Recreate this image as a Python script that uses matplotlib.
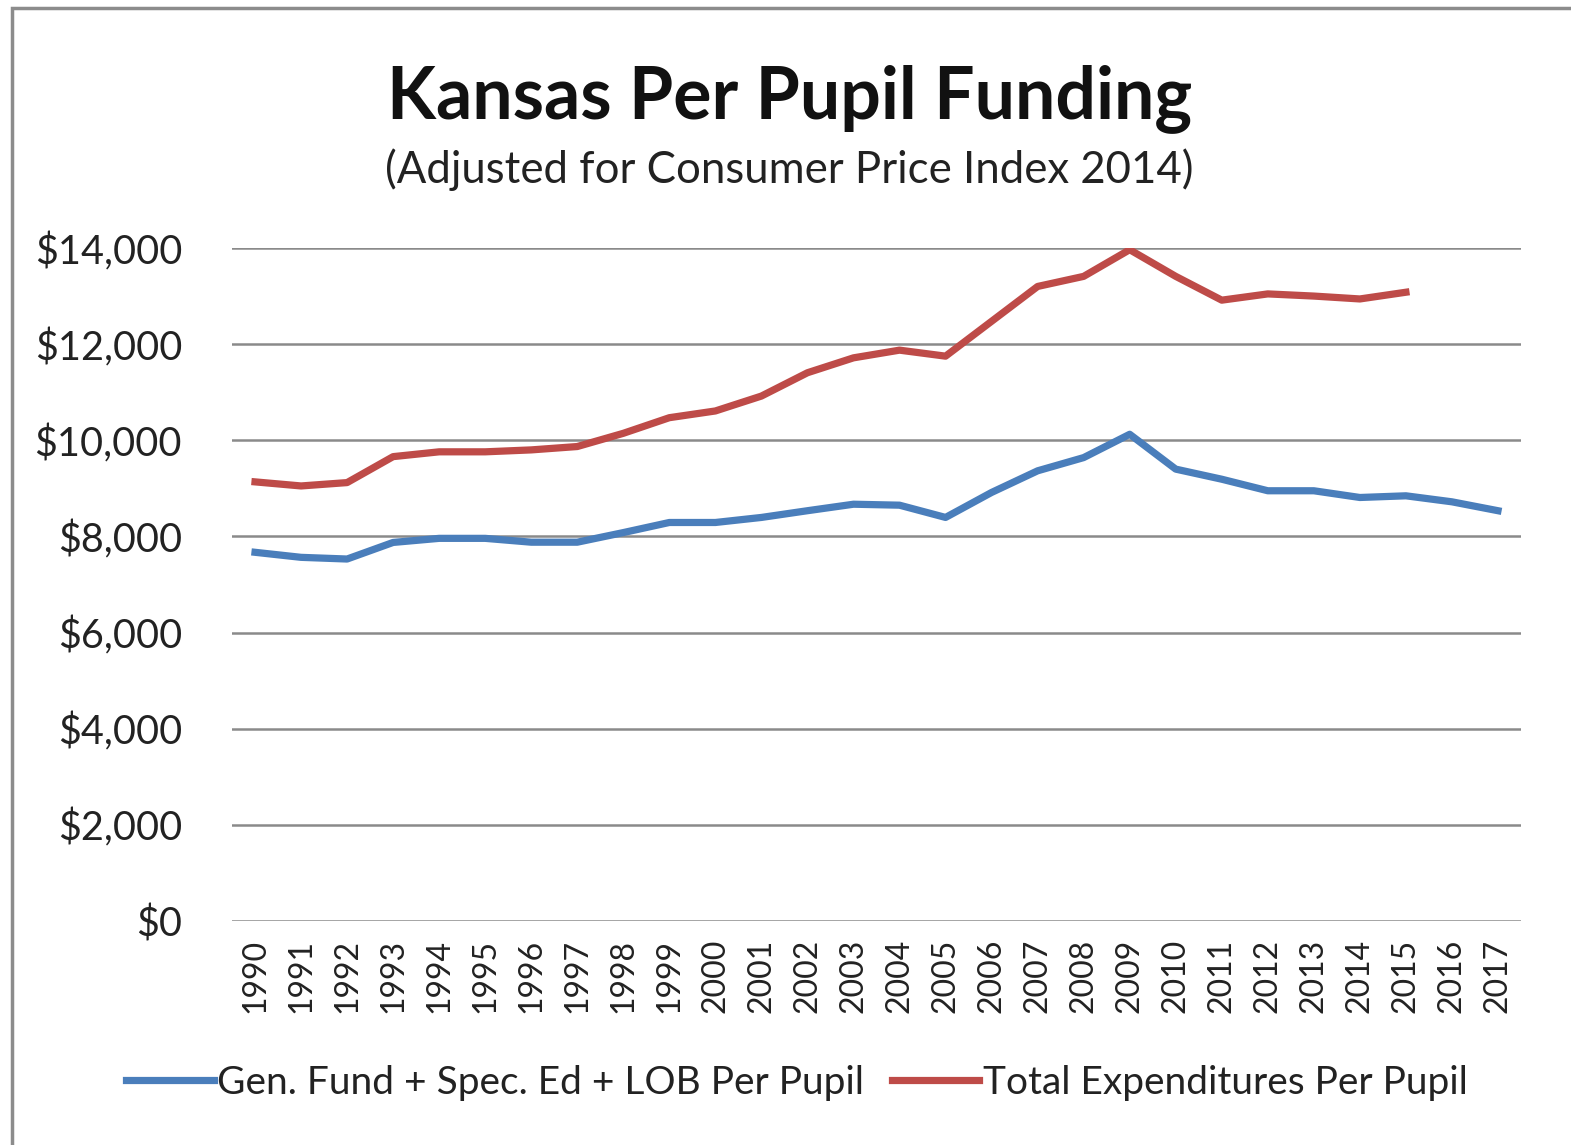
import matplotlib
matplotlib.use("Agg")
import matplotlib.pyplot as plt
from matplotlib.patches import Rectangle
from matplotlib.ticker import FuncFormatter

plt.rcParams.update({"font.family": ["Lato", "DejaVu Sans"]})

years = list(range(1990, 2018))
gen_fund = [7670, 7565, 7530, 7875, 7960, 7960, 7880, 7880, 8080, 8290,
            8290, 8395, 8535, 8670, 8650, 8395, 8915, 9365, 9640, 10125,
            9400, 9190, 8950, 8950, 8810, 8845, 8720, 8535]
total_exp = [9135, 9050, 9120, 9660, 9760, 9760, 9800, 9870, 10145, 10470,
             10610, 10920, 11405, 11715, 11875, 11750, 12475, 13200, 13410, 13965,
             13410, 12915, 13045, 13000, 12940, 13080]
labels = ["Gen. Fund + Spec. Ed + LOB Per Pupil", "Total Expenditures Per Pupil"]

W, H = 1571, 1145
fig = plt.figure(figsize=(W / 100, H / 100), dpi=100)
fig.patches.append(Rectangle((12 / W, -0.1), 1.2, 1 - 8 / H + 0.1,
                             transform=fig.transFigure, fill=False,
                             edgecolor="#8c8c8c", lw=2.5))

ax = fig.add_axes([232 / W, 1 - 921 / H, (1521 - 232) / W, (921 - 248) / H])
x = list(range(len(years)))
l1, = ax.plot(x, gen_fund, color="#4a7ebb", lw=5.2, solid_joinstyle="round")
l2, = ax.plot(x[:len(total_exp)], total_exp, color="#be4b48", lw=5.2, solid_joinstyle="round")

ax.set_xlim(-0.5, len(years) - 0.5)
ax.set_ylim(0, 14000)
ax.set_yticks(range(0, 14001, 2000))
ax.yaxis.set_major_formatter(FuncFormatter(lambda v, p: f"${v:,.0f}"))
ax.set_xticks(x)
ax.set_xticklabels([str(y) for y in years], rotation=90, fontsize=23, color="#222222")
ax.tick_params(axis="x", length=0, pad=13)
ax.tick_params(axis="y", length=0, pad=36, labelsize=28.5, labelcolor="#222222")
ax.grid(axis="y", color="#8a8a8a", lw=1.8)
ax.set_axisbelow(True)
for s in ax.spines.values():
    s.set_visible(False)

fig.text(790 / W, 1 - 99 / H, "Kansas Per Pupil Funding", ha="center", va="center",
         fontsize=51.5, fontweight="bold", color="#111111")
fig.text(789 / W, 1 - 170 / H, "(Adjusted for Consumer Price Index 2014)", ha="center",
         va="center", fontsize=31.5, color="#222222")

fig.legend([l1, l2], labels, loc="center", bbox_to_anchor=(797 / W, 1 - 1083 / H),
           ncol=2, frameon=False, fontsize=28, handlelength=2.25, handletextpad=0.1,
           columnspacing=0.7, labelcolor="#222222")

fig.savefig("out.png", dpi=100, facecolor="white")
